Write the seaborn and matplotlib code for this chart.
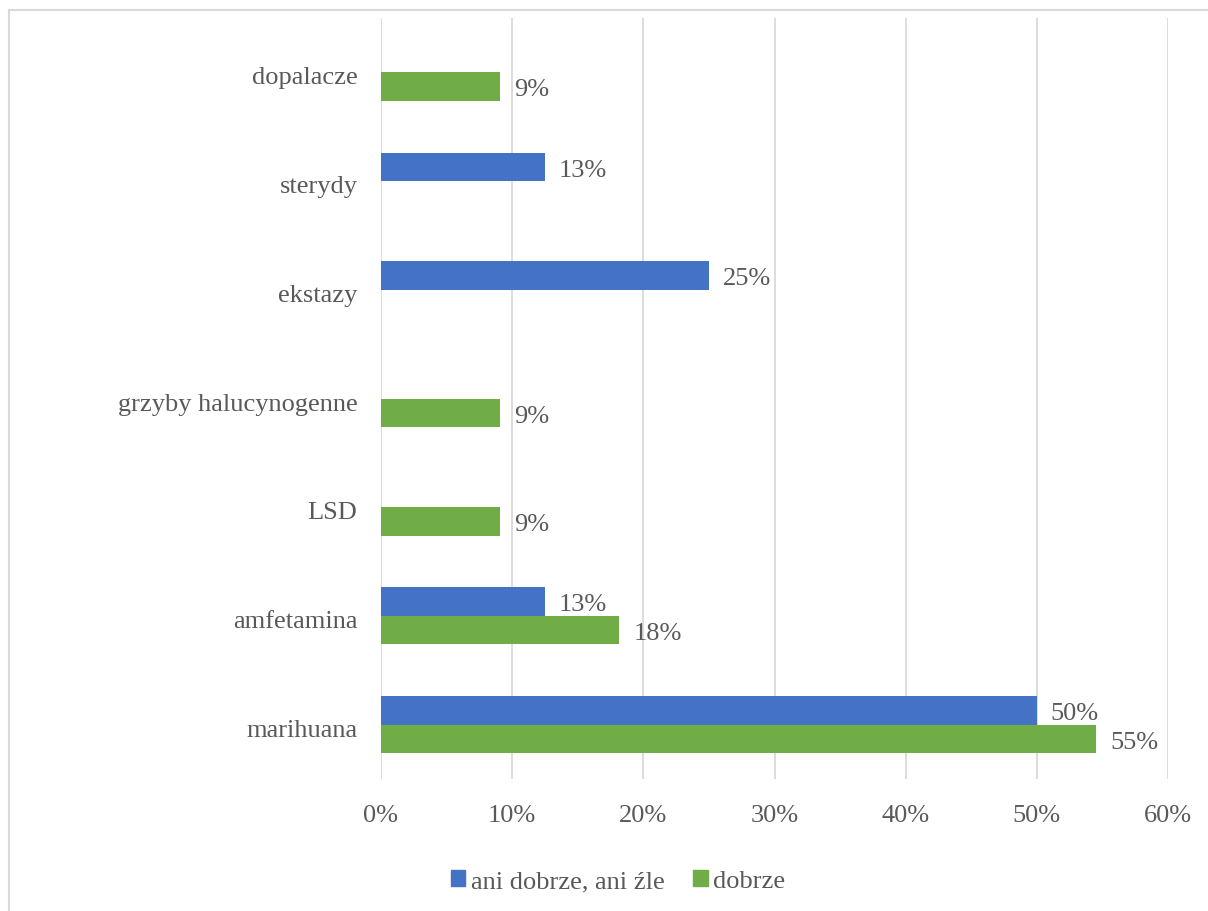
import matplotlib
matplotlib.use("Agg")
import matplotlib.pyplot as plt
import matplotlib.transforms as mtransforms
from matplotlib.lines import Line2D
from matplotlib.ticker import PercentFormatter
import seaborn as sns
import pandas as pd
import numpy as np

# dane z wykresu
kategorie = ["dopalacze", "sterydy", "ekstazy", "grzyby halucynogenne",
             "LSD", "amfetamina", "marihuana"]
ani_dobrze_ani_zle = [np.nan, 0.125, 0.25, np.nan, np.nan, 0.125, 0.50]
dobrze = [1 / 11, np.nan, np.nan, 1 / 11, 1 / 11, 2 / 11, 6 / 11]
serie = ["ani dobrze, ani źle", "dobrze"]
kolory = ["#4472C4", "#70AD47"]
x_ticks = [0, 0.1, 0.2, 0.3, 0.4, 0.5, 0.6]

df = pd.DataFrame({
    "Kategoria": kategorie * 2,
    "Seria": [serie[0]] * len(kategorie) + [serie[1]] * len(kategorie),
    "Wartosc": ani_dobrze_ani_zle + dobrze,
}).dropna()

sns.set_theme(style="white")
plt.rcParams["font.family"] = ["Liberation Serif", "DejaVu Serif"]
szary = "#595959"
fs = 19

fig = plt.figure(figsize=(12.08, 9.12), dpi=100)
ax = fig.add_axes([381 / 1208, 1 - 780 / 912, (1168 - 381) / 1208, (780 - 19) / 912])

sns.barplot(data=df, y="Kategoria", x="Wartosc", hue="Seria", order=kategorie,
            hue_order=serie, palette=kolory, orient="h", width=0.525,
            errorbar=None, saturation=1, legend=False, linewidth=0, ax=ax)

# przesuniecie tekstow o ~2 px w dol (jak w Excelu)
w_dol = mtransforms.ScaledTranslation(0, -2.5 / 100, fig.dpi_scale_trans)

for c in ax.containers:
    etykiety = ax.bar_label(c, fmt=lambda v: f"{int(v * 100 + 0.5)}%", padding=10,
                            fontsize=fs, color=szary)
    for t in etykiety:
        t.xyann = (t.xyann[0], t.xyann[1] - 2)

ax.set_xlim(0, 0.6)
ax.set_ylim(6.5, -0.5)
ax.set_xticks(x_ticks)
ax.xaxis.set_major_formatter(PercentFormatter(1.0, decimals=0))
ax.grid(axis="x", color="#D9D9D9", linewidth=1.3)
ax.set_axisbelow(True)
for s in ax.spines.values():
    s.set_visible(False)
ax.tick_params(axis="x", length=0, pad=18, labelsize=fs, labelcolor=szary)
ax.tick_params(axis="y", length=0, pad=17, labelsize=fs, labelcolor=szary)
for lbl in ax.get_yticklabels():
    lbl.set_transform(lbl.get_transform() + w_dol)
ax.set_xlabel("")
ax.set_ylabel("")

uchwyty = [plt.Rectangle((0, 0), 1, 1, color=k) for k in kolory]
fig.legend(uchwyty, serie, loc="center", bbox_to_anchor=(618 / 1208, 1 - 882 / 912),
           ncol=2, frameon=False, fontsize=fs, labelcolor=szary,
           handlelength=0.55, handleheight=0.55, handletextpad=0.2,
           columnspacing=1.1)

# ramka wykresu
fig.add_artist(Line2D([8.5 / 1208, 1], [1 - 10.5 / 912, 1 - 10.5 / 912],
                      color="#D9D9D9", linewidth=1.5))
fig.add_artist(Line2D([8.5 / 1208, 8.5 / 1208], [0, 1 - 10.5 / 912],
                      color="#D9D9D9", linewidth=1.5))

fig.savefig("out.png", dpi=100)
